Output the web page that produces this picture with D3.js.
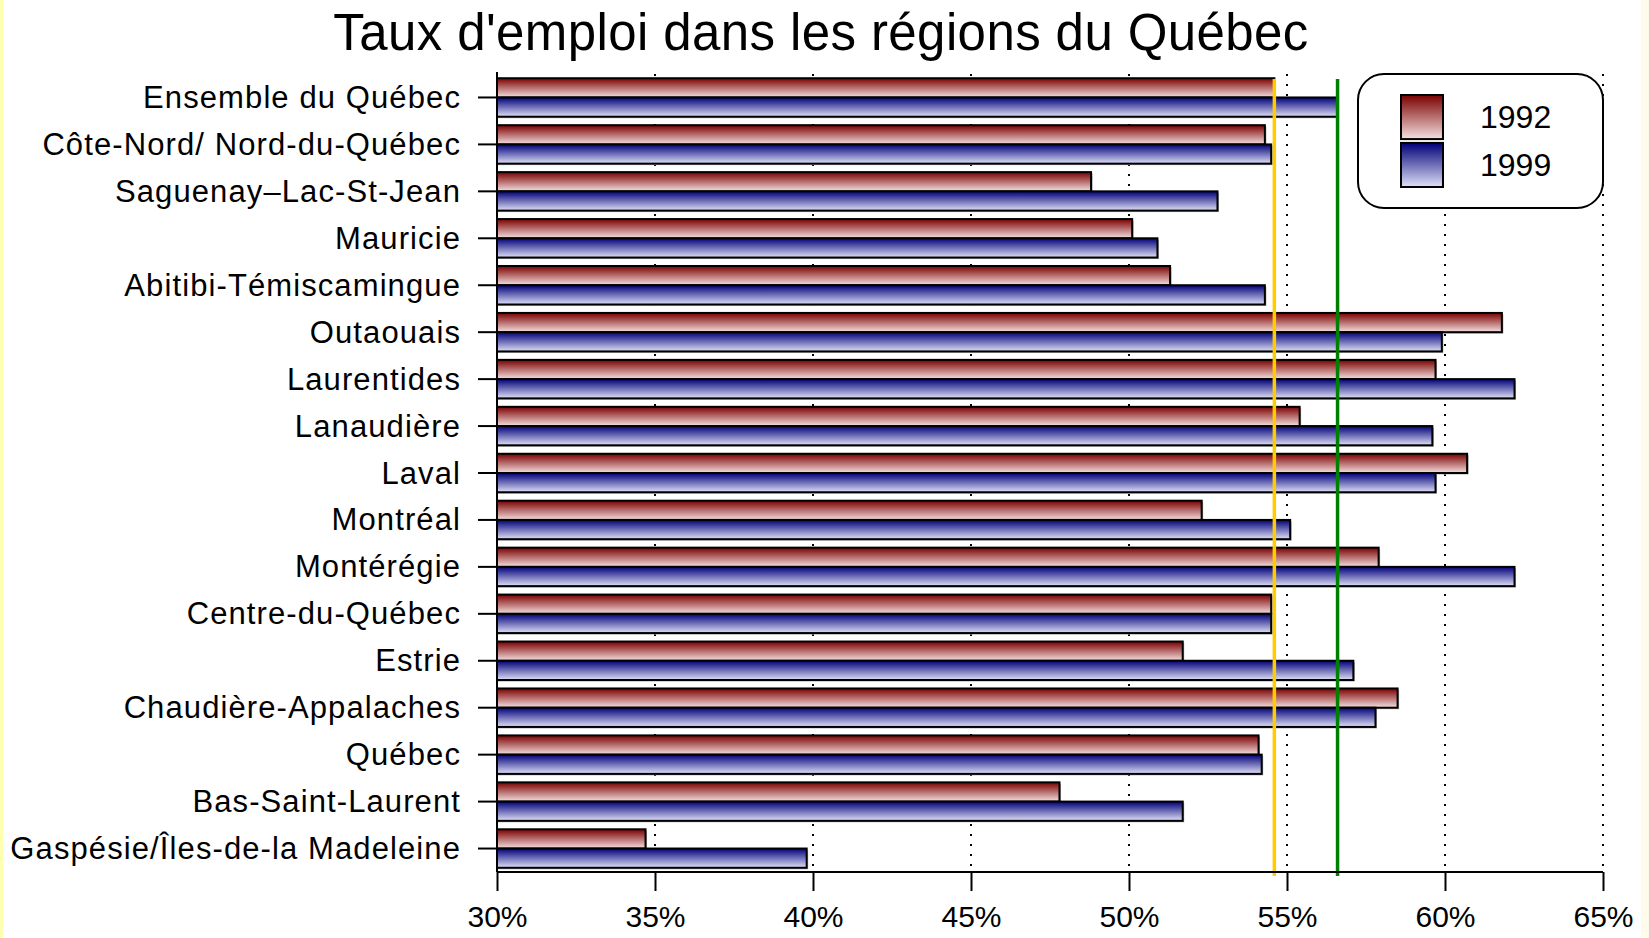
<!DOCTYPE html>
<html>
<head>
<meta charset="utf-8">
<script src="https://cdn.jsdelivr.net/npm/d3@7"></script>
<style>
  html, body { margin: 0; padding: 0; background: #ffffff; }
  svg { display: block; }
</style>
</head>
<body>
<svg id="chart" width="1649" height="938"></svg>
<script>
const categories = [
  "Ensemble du Québec",
  "Côte-Nord/ Nord-du-Québec",
  "Saguenay–Lac-St-Jean",
  "Mauricie",
  "Abitibi-Témiscamingue",
  "Outaouais",
  "Laurentides",
  "Lanaudière",
  "Laval",
  "Montréal",
  "Montérégie",
  "Centre-du-Québec",
  "Estrie",
  "Chaudière-Appalaches",
  "Québec",
  "Bas-Saint-Laurent",
  "Gaspésie/Îles-de-la Madeleine"
];
const values1992 = [54.6, 54.3, 48.8, 50.1, 51.3, 61.8, 59.7, 55.4, 60.7, 52.3, 57.9, 54.5, 51.7, 58.5, 54.1, 47.8, 34.7];
const values1999 = [56.6, 54.5, 52.8, 50.9, 54.3, 59.9, 62.2, 59.6, 59.7, 55.1, 62.2, 54.5, 57.1, 57.8, 54.2, 51.7, 39.8];
const seriesNames = ["1992", "1999"];
const xTicks = [30, 35, 40, 45, 50, 55, 60, 65];
const xDomain = [30, 65];
const refLines = [
  { value: values1992[0], color: "#ffcc00" },
  { value: values1999[0], color: "#008000" }
];
const titleText = "Taux d'emploi dans les régions du Québec";

const svg = d3.select("#chart");
const W = 1649, H = 938;
const margin = { left: 497, right: 46, top: 74, bottom: 66 };
const plotBottom = H - margin.bottom; // 872
const plotRight = W - margin.right;   // 1603
const FONT = "'Liberation Sans', Arial, sans-serif";

// page edges
svg.append("rect").attr("x", 0).attr("y", 0).attr("width", W).attr("height", H).attr("fill", "#ffffff");
svg.append("rect").attr("x", 0).attr("y", 0).attr("width", 3).attr("height", H).attr("fill", "#ffffb0");
svg.append("rect").attr("x", W - 8).attr("y", 0).attr("width", 8).attr("height", H).attr("fill", "#fffbea");

// gradients
const defs = svg.append("defs");
const gradSpecs = [
  { id: "g1992", top: "#7a0000", bottom: "#f6e0e0" },
  { id: "g1999", top: "#000078", bottom: "#e0e0f8" }
];
gradSpecs.forEach(g => {
  const lg = defs.append("linearGradient").attr("id", g.id)
    .attr("x1", 0).attr("y1", 0).attr("x2", 0).attr("y2", 1);
  lg.append("stop").attr("offset", "0%").attr("stop-color", g.top);
  lg.append("stop").attr("offset", "100%").attr("stop-color", g.bottom);
});

const x = d3.scaleLinear().domain(xDomain).range([margin.left, plotRight]);
const y = d3.scaleBand().domain(categories).range([margin.top, plotBottom]).paddingInner(0).paddingOuter(0);
const y1 = d3.scaleBand().domain(seriesNames).range([0, y.bandwidth()]).paddingOuter(0.22).paddingInner(0);

// title
svg.append("text")
  .attr("x", 821).attr("y", 50)
  .attr("text-anchor", "middle")
  .attr("font-family", FONT)
  .attr("font-size", 51)
  .attr("letter-spacing", 0.4)
  .attr("fill", "#000")
  .text(titleText);

// dotted gridlines
svg.append("g").selectAll("line")
  .data(xTicks.filter(t => t > xDomain[0]))
  .join("line")
  .attr("x1", d => x(d)).attr("x2", d => x(d))
  .attr("y1", margin.top).attr("y2", plotBottom)
  .attr("stroke", "#000")
  .attr("stroke-width", 2)
  .attr("stroke-dasharray", "2 8");

// bars
const rows = categories.map((c, i) => ({ cat: c, vals: [
  { s: "1992", v: values1992[i] },
  { s: "1999", v: values1999[i] }
]}));

const gRows = svg.append("g").selectAll("g")
  .data(rows)
  .join("g")
  .attr("transform", d => `translate(0,${y(d.cat)})`);

// faint shadow
gRows.selectAll("rect.shadow")
  .data(d => d.vals)
  .join("rect")
  .attr("class", "shadow")
  .attr("x", x(xDomain[0]))
  .attr("y", d => y1(d.s) + 1.5)
  .attr("width", d => x(d.v) - x(xDomain[0]) + 1.5)
  .attr("height", y1.bandwidth())
  .attr("fill", "#b0b0b0");

gRows.selectAll("rect.bar")
  .data(d => d.vals)
  .join("rect")
  .attr("class", "bar")
  .attr("x", x(xDomain[0]))
  .attr("y", d => y1(d.s))
  .attr("width", d => x(d.v) - x(xDomain[0]))
  .attr("height", y1.bandwidth())
  .attr("fill", d => `url(#g${d.s})`)
  .attr("stroke", "#000")
  .attr("stroke-width", 2);

// reference lines
svg.append("g").selectAll("line")
  .data(refLines)
  .join("line")
  .attr("x1", d => x(d.value)).attr("x2", d => x(d.value))
  .attr("y1", margin.top + 5).attr("y2", plotBottom + 4)
  .attr("stroke", d => d.color)
  .attr("stroke-width", 3.5);

// y axis
const yAxis = d3.axisLeft(y).tickSize(19).tickPadding(17);
const gy = svg.append("g").attr("transform", `translate(${margin.left},0)`).call(yAxis);
gy.select(".domain").attr("d", `M0,${margin.top - 2}V${plotBottom}`).attr("stroke", "#000").attr("stroke-width", 2);
gy.selectAll(".tick line").attr("stroke", "#000").attr("stroke-width", 2);
gy.selectAll(".tick text")
  .attr("font-family", FONT)
  .attr("font-size", 31)
  .attr("letter-spacing", 1.1)
  .attr("fill", "#000")
  .attr("dy", "0.34em");

// x axis
const xAxis = d3.axisBottom(x).tickValues(xTicks).tickFormat(d => d + "%").tickSize(19).tickPadding(14);
const gx = svg.append("g").attr("transform", `translate(0,${plotBottom})`).call(xAxis);
gx.select(".domain").attr("d", `M${margin.left},0H${plotRight}`).attr("stroke", "#000").attr("stroke-width", 2);
gx.selectAll(".tick line").attr("stroke", "#000").attr("stroke-width", 2);
gx.selectAll(".tick text")
  .attr("font-family", FONT)
  .attr("font-size", 30)
  .attr("fill", "#000")
  .attr("dy", "0.72em");

// legend
const lg = svg.append("g");
lg.append("rect")
  .attr("x", 1358).attr("y", 74).attr("width", 245).attr("height", 134)
  .attr("rx", 26).attr("ry", 26)
  .attr("fill", "#ffffff").attr("stroke", "#000").attr("stroke-width", 2);
const legY = d3.scaleBand().domain(seriesNames).range([95, 187]).paddingInner(0.08);
const li = lg.selectAll("g.item").data(seriesNames).join("g").attr("class", "item");
li.append("rect")
  .attr("x", 1401).attr("y", d => legY(d))
  .attr("width", 42).attr("height", legY.bandwidth())
  .attr("fill", d => `url(#g${d})`)
  .attr("stroke", "#000").attr("stroke-width", 2);
li.append("text")
  .attr("x", 1480).attr("y", d => legY(d) + legY.bandwidth() / 2 + 11)
  .attr("font-family", FONT)
  .attr("font-size", 32)
  .attr("fill", "#000")
  .text(d => d);
</script>
</body>
</html>
